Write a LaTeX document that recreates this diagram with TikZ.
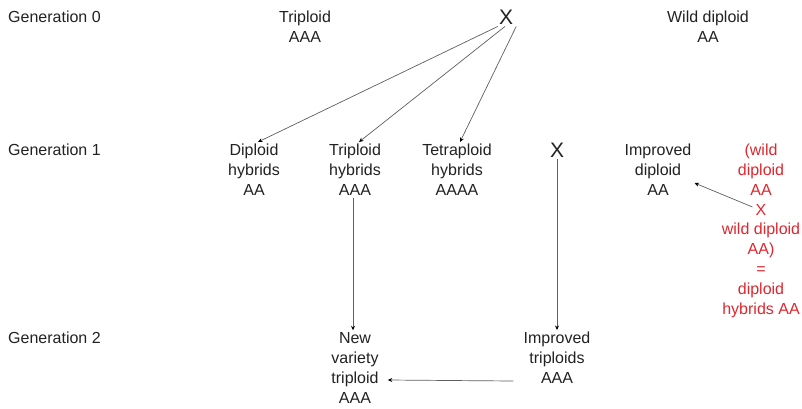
\documentclass[tikz,border=0pt]{standalone}
\usepackage{fontspec}
\setmainfont{Liberation Sans}
\usetikzlibrary{arrows.meta,calc}
\definecolor{txt}{RGB}{34,34,34}
\definecolor{redtxt}{RGB}{222,40,48}
\definecolor{ln}{RGB}{95,95,95}
\begin{document}
\begin{tikzpicture}[x=1pt,y=-1pt,
  lbl/.style={text=txt,font=\fontsize{16}{20}\selectfont,align=center,inner sep=2pt},
  gen/.style={text=txt,font=\fontsize{16}{20}\selectfont,anchor=west,inner sep=0pt},
  cross/.style={text=txt,font=\fontsize{21}{20}\selectfont,inner sep=2pt},
  rlbl/.style={text=redtxt,font=\fontsize{16}{20}\selectfont,align=center,inner sep=2pt},
  arr/.style={draw=ln,line width=0.7pt,-{Stealth[length=4.5pt,width=4pt,black]}}]
\useasboundingbox[fill=white] (0,0) rectangle (802,408);
% generation labels
\node[gen] (g0) at (8,17) {Generation 0};
\node[gen] (g1) at (8,150) {Generation 1};
\node[gen] (g2) at (8,338) {Generation 2};
% generation 0
\node[lbl] (tri) at (305,27) {Triploid\\AAA};
\node[cross] (xt) at (506,17) {X};
\node[lbl] (wd) at (708,27) {Wild diploid\\AA};
% generation 1
\node[lbl] (dh) at (254,170) {Diploid\\hybrids\\AA};
\node[lbl] (th) at (355,170) {Triploid\\hybrids\\AAA};
\node[lbl] (teh) at (457,170) {Tetraploid\\hybrids\\AAAA};
\node[cross] (xm) at (557,150) {X};
\node[lbl] (id) at (658,170) {Improved\\diploid\\AA};
\node[rlbl] (r1) at (761,170) {(wild\\diploid\\AA};
\node[rlbl] (rx) at (761,210) {X};
\node[rlbl] (r2) at (761,270) {wild diploid\\AA)\\=\\diploid\\hybrids AA};
% generation 2
\node[lbl] (nv) at (355,368) {New\\variety\\triploid\\AAA};
\node[lbl] (it) at (557,358) {Improved\\triploids\\AAA};
% connectors
\draw[arr] ([xshift=1pt]xt.south west) -- ([xshift=4pt]dh.north);
\draw[arr] ([xshift=-1pt]xt.south) -- ([xshift=4pt]th.north);
\draw[arr] ([xshift=1pt]xt.south east) -- ([xshift=3pt]teh.north);
\draw[arr] ([xshift=-2pt]th.south) -- ([xshift=-2pt]nv.north);
\draw[arr] (xm.south) -- (it.north);
\draw[arr] ([xshift=-8pt,yshift=-23pt]it.west) -- ([xshift=7pt,yshift=-12pt]nv.east);
\draw[arr] ([xshift=-1pt,yshift=3pt]rx.west) -- ([xshift=1pt,yshift=-13pt]id.east);
\end{tikzpicture}
\end{document}
